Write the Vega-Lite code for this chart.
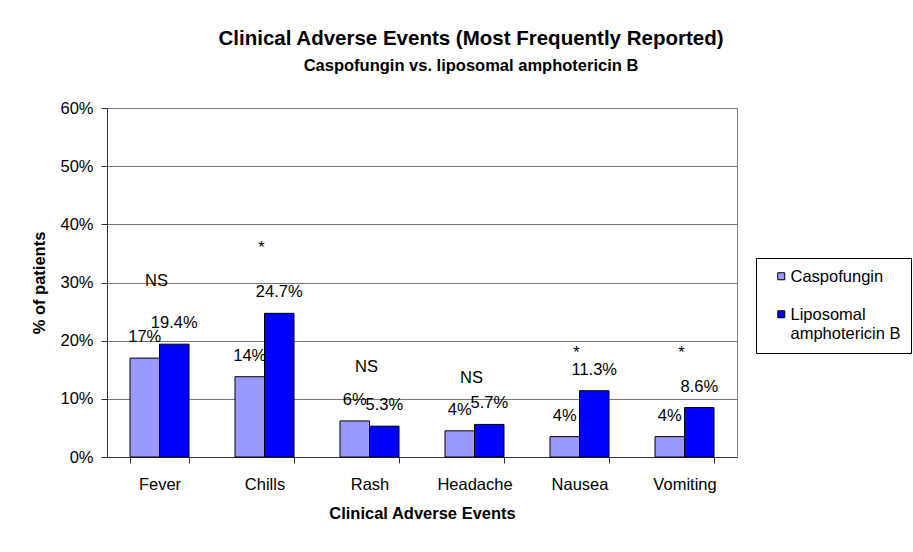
{
  "$schema": "https://vega.github.io/schema/vega-lite/v6.json",
  "autosize": "none",
  "width": 630,
  "height": 349,
  "padding": {"left": 107, "top": 108, "right": 176, "bottom": 95},
  "background": "white",
  "title": {
    "text": "Clinical Adverse Events (Most Frequently Reported)",
    "subtitle": "Caspofungin vs. liposomal amphotericin B",
    "font": "Liberation Sans", "fontSize": 20.5, "fontWeight": "bold",
    "subtitleFont": "Liberation Sans", "subtitleFontSize": 16.5, "subtitleFontWeight": "bold", "subtitleColor": "black",
    "subtitlePadding": 8,
    "anchor": "middle", "frame": "group", "dx": 49, "offset": 26, "color": "black"
  },
  "datasets": {
    "bars": [
      {"event": "Fever", "drug": "Caspofungin", "pct": 17.0, "label": "17%"},
      {"event": "Fever", "drug": "Liposomal amphotericin B", "pct": 19.4, "label": "19.4%"},
      {"event": "Chills", "drug": "Caspofungin", "pct": 13.8, "label": "14%"},
      {"event": "Chills", "drug": "Liposomal amphotericin B", "pct": 24.7, "label": "24.7%"},
      {"event": "Rash", "drug": "Caspofungin", "pct": 6.2, "label": "6%"},
      {"event": "Rash", "drug": "Liposomal amphotericin B", "pct": 5.3, "label": "5.3%"},
      {"event": "Headache", "drug": "Caspofungin", "pct": 4.5, "label": "4%"},
      {"event": "Headache", "drug": "Liposomal amphotericin B", "pct": 5.6, "label": "5.7%"},
      {"event": "Nausea", "drug": "Caspofungin", "pct": 3.5, "label": "4%"},
      {"event": "Nausea", "drug": "Liposomal amphotericin B", "pct": 11.4, "label": "11.3%"},
      {"event": "Vomiting", "drug": "Caspofungin", "pct": 3.5, "label": "4%"},
      {"event": "Vomiting", "drug": "Liposomal amphotericin B", "pct": 8.5, "label": "8.6%"}
    ],
    "notes": [
      {"event": "Fever", "note": "NS", "pos": 29.4},
      {"event": "Chills", "note": "*", "pos": 35.1},
      {"event": "Rash", "note": "NS", "pos": 14.6},
      {"event": "Headache", "note": "NS", "pos": 12.7},
      {"event": "Nausea", "note": "*", "pos": 17.0},
      {"event": "Vomiting", "note": "*", "pos": 17.0}
    ]
  },
  "layer": [
    {
      "data": {"name": "bars"},
      "mark": {"type": "bar", "stroke": "black", "strokeWidth": 1},
      "encoding": {
        "x": {"field": "event", "type": "nominal"},
        "xOffset": {"field": "drug", "type": "nominal", "scale": {"paddingInner": 0, "paddingOuter": 0}},
        "y": {"field": "pct", "type": "quantitative"},
        "color": {
          "field": "drug", "type": "nominal",
          "scale": {"domain": ["Caspofungin", "Liposomal amphotericin B"], "range": ["#9999FF", "#0000FF"]},
          "legend": {
            "title": null, "orient": "none", "legendX": 649, "legendY": 150,
            "strokeColor": "black", "fillColor": "white", "padding": 10,
            "symbolType": "square", "symbolSize": 49, "symbolStrokeColor": "black", "symbolStrokeWidth": 1,
            "symbolOffset": 7, "labelOffset": 1,
            "labelFont": "Liberation Sans", "labelFontSize": 16.5, "labelColor": "black", "labelLimit": 112,
            "labelBaseline": "top", "labelLineHeight": 18, "rowPadding": 20,
            "labelExpr": "datum.label == 'Liposomal amphotericin B' ? ['Liposomal', 'amphotericin B'] : datum.label",
            "encode": {"labels": {"update": {"dy": {"value": -7}}}}
          }
        }
      }
    },
    {
      "data": {"name": "bars"},
      "mark": {"type": "text", "font": "Liberation Sans", "fontSize": 16.5, "color": "black", "baseline": "alphabetic", "dy": -16},
      "encoding": {
        "x": {"field": "event", "type": "nominal"},
        "xOffset": {"field": "drug", "type": "nominal"},
        "y": {"field": "pct", "type": "quantitative"},
        "text": {"field": "label"}
      }
    },
    {
      "data": {"name": "notes"},
      "mark": {"type": "text", "font": "Liberation Sans", "fontSize": 16.5, "color": "black", "baseline": "alphabetic", "dx": -3},
      "encoding": {
        "x": {"field": "event", "type": "nominal"},
        "y": {"field": "pos", "type": "quantitative"},
        "text": {"field": "note"}
      }
    }
  ],
  "resolve": {"scale": {"x": "shared", "y": "shared"}},
  "encoding": {
    "x": {
      "field": "event", "type": "nominal",
      "scale": {"domain": ["Fever", "Chills", "Rash", "Headache", "Nausea", "Vomiting"], "paddingInner": 0.438, "paddingOuter": 0.219},
      "axis": {
        "title": "Clinical Adverse Events", "labelAngle": 0, "tickBand": "extent",
        "tickSize": 6, "labelPadding": 13, "titlePadding": 13,
        "domainColor": "#333333", "tickColor": "#333333"
      }
    },
    "y": {
      "field": "pct", "type": "quantitative",
      "scale": {"domain": [0, 60], "nice": false},
      "axis": {
        "title": "% of patients", "values": [0, 10, 20, 30, 40, 50, 60],
        "labelExpr": "datum.value + '%'", "tickSize": 6, "labelPadding": 8, "titlePadding": 12,
        "grid": true, "gridColor": "#777777", "domainColor": "#333333", "tickColor": "#333333"
      }
    }
  },
  "config": {
    "view": {"stroke": "#888888", "strokeWidth": 1},
    "axis": {
      "labelFont": "Liberation Sans", "labelFontSize": 16.5, "labelColor": "black",
      "titleFont": "Liberation Sans", "titleFontSize": 16.5, "titleFontWeight": "bold", "titleColor": "black"
    }
  }
}
